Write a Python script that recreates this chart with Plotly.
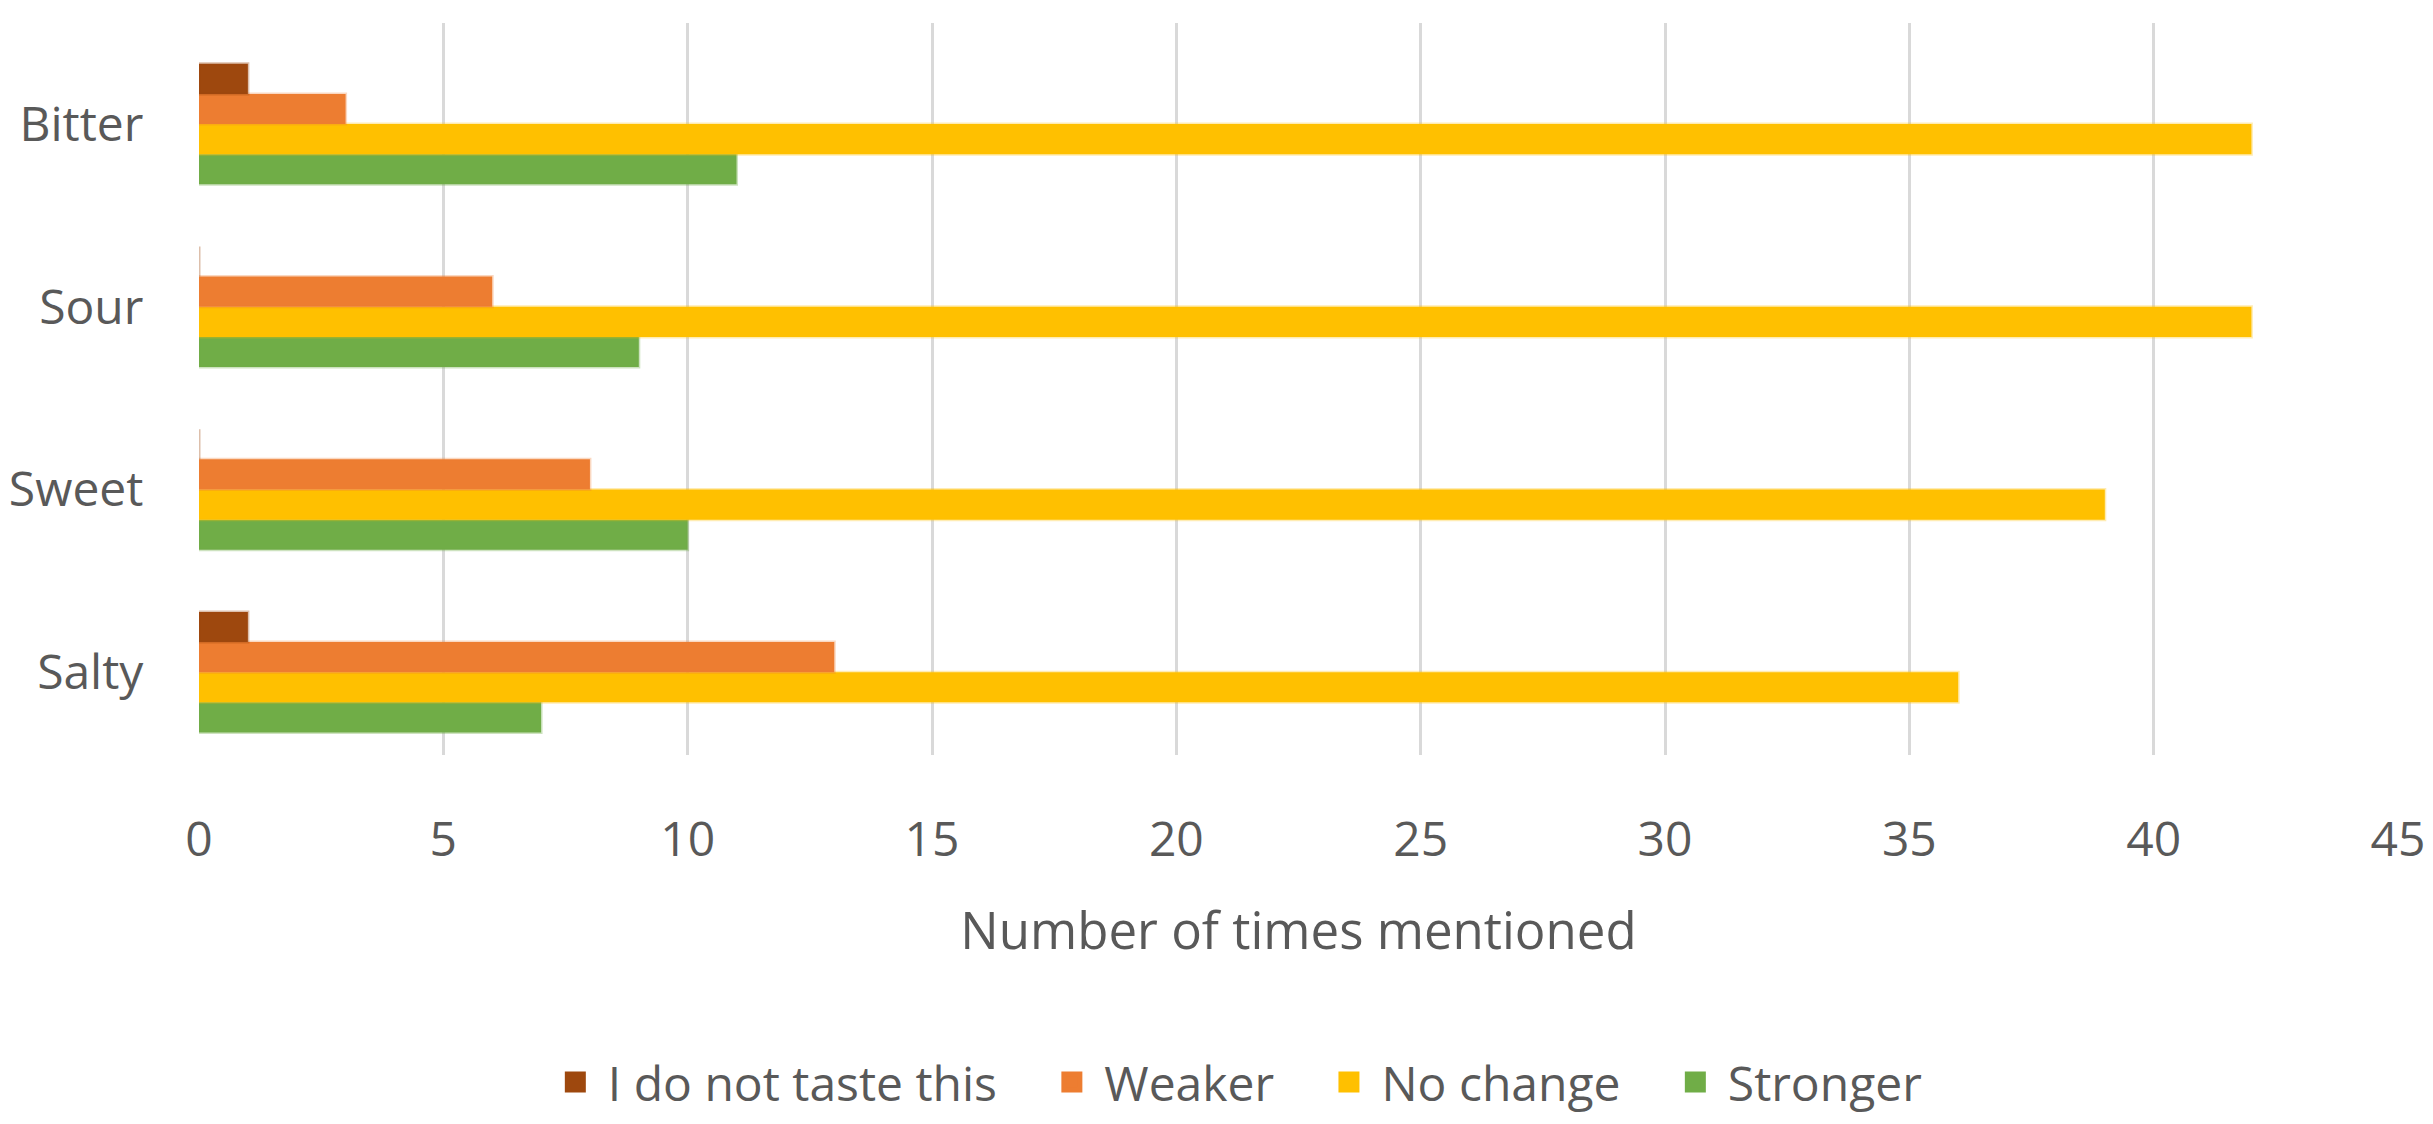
import plotly.graph_objects as go

categories = ["Salty", "Sweet", "Sour", "Bitter"]
series_names = ["I do not taste this", "Weaker", "No change", "Stronger"]
not_taste = [1, 0, 0, 1]
weaker = [13, 8, 6, 3]
no_change = [36, 39, 42, 42]
stronger = [7, 10, 9, 11]
colors = ["#9E480E", "#ED7D31", "#FFC000", "#70AD47"]
edge_colors = ["rgba(158,72,14,0.35)", "rgba(237,125,49,0.3)", "rgba(255,192,0,0.3)", "rgba(112,173,71,0.35)"]
x_ticks = [0, 5, 10, 15, 20, 25, 30, 35, 40, 45]

values = [not_taste, weaker, no_change, stronger]

fig = go.Figure()
# plotly places grouped horizontal bars from bottom to top, so add in reverse
for i in reversed(range(4)):
    fig.add_trace(go.Bar(
        y=categories, x=values[i], name=series_names[i], orientation="h",
        marker=dict(color=colors[i], line=dict(color=edge_colors[i], width=3)),
        showlegend=False,
    ))

NB = "\u00a0"
# legend entries with larger square swatches
for i in range(4):
    label = NB + series_names[i] + (NB * 4 if i < 3 else "")
    fig.add_trace(go.Scatter(
        x=[None], y=[None], mode="markers", name=label,
        marker=dict(symbol="square", size=16, color=colors[i],
                    line=dict(color=colors[i], width=5)),
        showlegend=True,
    ))

font_family = "Open Sans, Noto Sans, Liberation Sans"
fig.update_layout(
    width=2433, height=1124,
    margin=dict(l=191, r=43, t=15, b=338),
    barmode="group", bargap=0.34, bargroupgap=0,
    plot_bgcolor="white", paper_bgcolor="white",
    font=dict(family=font_family, color="#595959", size=48),
    legend=dict(orientation="h", traceorder="normal", x=0.474, xanchor="center",
                y=-0.447, yanchor="middle", font=dict(size=48, color="#595959"),
                itemsizing="trace", itemwidth=30, tracegroupgap=0),
    xaxis=dict(range=[0, 45], tickvals=x_ticks, showgrid=True, gridcolor="#D9D9D9",
               gridwidth=3, zeroline=False, showline=False, automargin=False,
               ticks="outside", ticklen=42, tickcolor="rgba(0,0,0,0)",
               tickfont=dict(size=48, color="#595959"),
               title=dict(text="Number of times mentioned", font=dict(size=51, color="#595959"), standoff=44)),
    yaxis=dict(type="category", categoryorder="array", categoryarray=categories,
               range=[-0.453, 3.553], showgrid=False, zeroline=False, showline=False,
               automargin=False,
               ticks="outside", ticklen=45, tickcolor="rgba(0,0,0,0)",
               tickfont=dict(size=48, color="#595959")),
)

fig.write_html("out.html")
